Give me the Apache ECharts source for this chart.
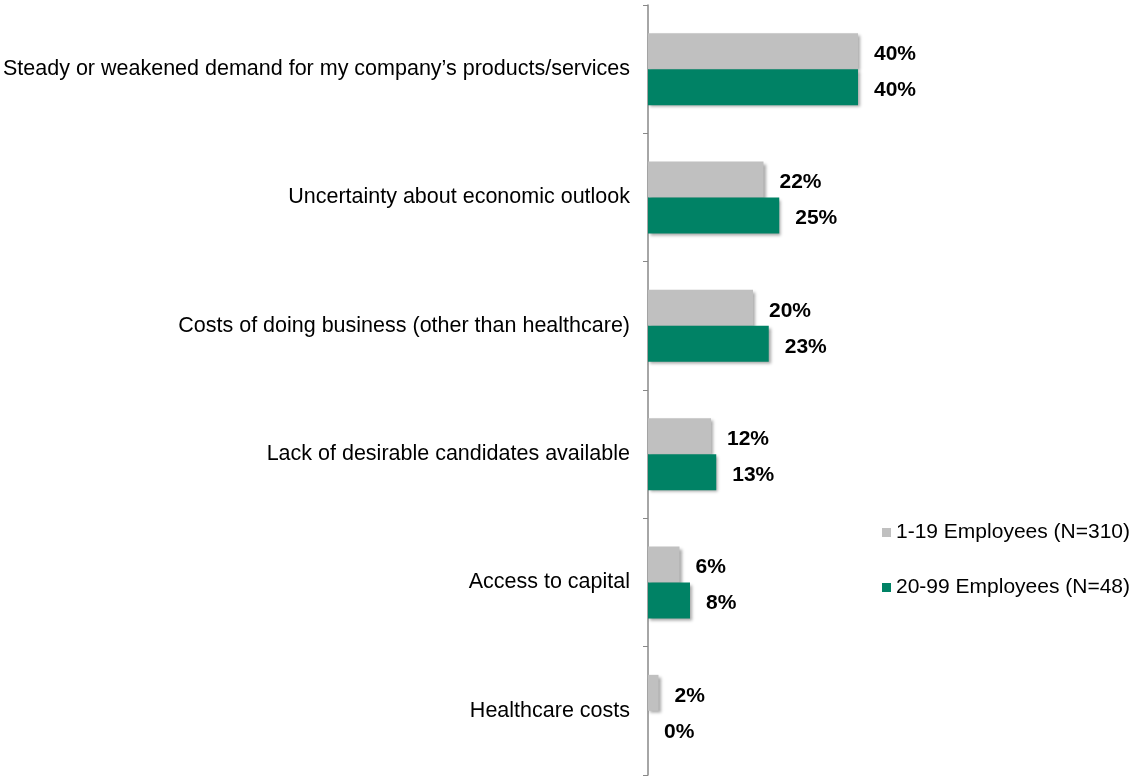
<!DOCTYPE html>
<html><head><meta charset="utf-8">
<script src="https://cdn.jsdelivr.net/npm/echarts@6/dist/echarts.min.js"></script>
<style>html,body{margin:0;padding:0;background:#fff}#c{width:1134px;height:776px}</style>
</head><body><div id="c"></div>
<script>
var categories = [
  "Steady or weakened demand for my company\u2019s products/services",
  "Uncertainty about economic outlook",
  "Costs of doing business (other than healthcare)",
  "Lack of desirable candidates available",
  "Access to capital",
  "Healthcare costs"
];
var seriesNames = ["1-19 Employees (N=310)", "20-99 Employees (N=48)"];
var small = [40, 22, 20, 12, 6, 2];
var medium = [40, 25, 23, 13, 8, 0];

var chart = echarts.init(document.getElementById('c'));
var font = "'Liberation Sans', Arial, sans-serif";
var shadow = {shadowColor:'rgba(0,0,0,0.35)', shadowBlur:3, shadowOffsetX:2, shadowOffsetY:2};
function lbl(){return {show:true, position:'right', distance:16, offset:[0,3], formatter:'{c}%', fontFamily:font, fontSize:21, fontWeight:'bold', color:'#000'};}
chart.setOption({
  animation:false,
  textStyle:{fontFamily:font},
  grid:{left:648, top:5, bottom:1, right:66, containLabel:false},
  legend:{orient:'vertical', left:877, top:517, itemWidth:9, itemHeight:9, itemGap:34,
    icon:'rect', textStyle:{fontFamily:font, fontSize:21, color:'#000'}, data:seriesNames},
  xAxis:{type:'value', min:0, max:80, show:false},
  yAxis:{type:'category', data:categories, inverse:true,
    axisLine:{lineStyle:{color:'#888', width:1.5}},
    axisTick:{show:true, length:5, lineStyle:{color:'#888'}},
    axisLabel:{margin:18, fontFamily:font, fontSize:21.5, color:'#000', padding:[4,0,0,0]}},
  series:[
    {name:seriesNames[0], type:'bar', data:small, barWidth:36, barGap:'0%',
      itemStyle:Object.assign({color:'#C0C0C0'}, shadow), label:lbl()},
    {name:seriesNames[1], type:'bar', data:medium, barWidth:36, barGap:'0%',
      itemStyle:Object.assign({color:'#008265'}, shadow), label:lbl()}
  ]
});
</script></body></html>
